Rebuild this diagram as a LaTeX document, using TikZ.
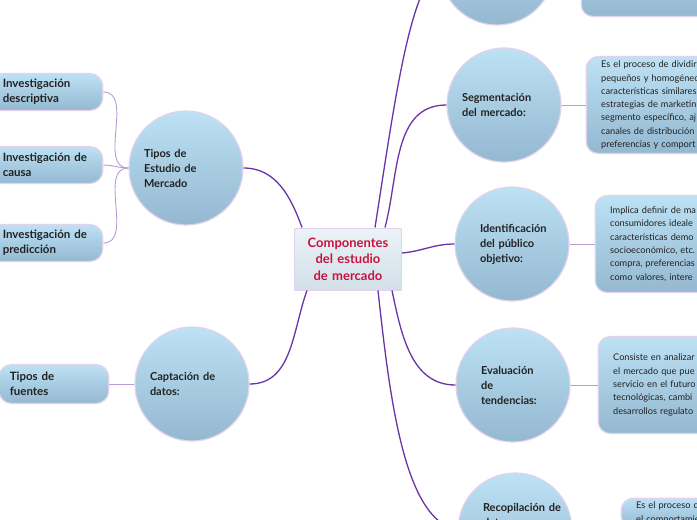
\documentclass[tikz,border=0pt]{standalone}
\usepackage{fontspec}
\setmainfont{Lato}
\usetikzlibrary{positioning}

\definecolor{bubtop}{HTML}{BDE2F5}
\definecolor{bubbot}{HTML}{93B8D0}
\definecolor{rim}{HTML}{E2D2EC}
\definecolor{branchc}{HTML}{6A33A6}
\definecolor{twigc}{HTML}{B89CD4}
\definecolor{rootred}{HTML}{C8143C}
\definecolor{roottop}{HTML}{EAF3F8}
\definecolor{rootbot}{HTML}{D2E0E8}
\definecolor{inktext}{HTML}{222222}

\begin{document}
\begin{tikzpicture}[
  x=1pt, y=1pt,
  node distance=25pt,
  root/.style={draw=rim, line width=1pt, top color=roottop, bottom color=rootbot, align=center, minimum width=107pt, minimum height=62pt, text width=100pt, text=rootred, font=\fontsize{13}{16.5}\selectfont\bfseries},
  bubtext/.style={text width=84pt, align=left, text=inktext, font=\fontsize{11}{15}\selectfont\bfseries},
  bubble/.style={circle, draw=rim, line width=1.2pt, top color=bubtop, bottom color=bubbot, minimum size=114pt, inner sep=0pt, bubtext},
  leaf/.style={draw=rim, line width=1.2pt, rounded corners=13pt, top color=bubtop, bottom color=bubbot, inner xsep=14pt, inner ysep=4pt, minimum height=37pt, text width=86pt, align=left, text=inktext, font=\fontsize{11.5}{15}\selectfont\bfseries},
  note/.style={draw=rim, line width=1.2pt, rounded corners=12pt, top color=bubtop, bottom color=bubbot, inner xsep=15pt, inner ysep=4pt, minimum height=97pt, text width=200pt, align=left, text=inktext, font=\fontsize{9.2}{13.3}\selectfont},
  branch/.style={draw=branchc, line width=1.3pt},
  twig/.style={draw=twigc, line width=0.9pt}
]
\path[fill=white] (0,0) rectangle (697,-520);
\useasboundingbox (0,0) rectangle (697,-520);

% centre
\node[root] (comp) at (348,-259) {Componentes\\del estudio\\de mercado};

% left side
\node[bubble] (tipos) at (186,-168) {Tipos de\\Estudio de\\Mercado};
\node[bubble] (capt) at (192,-384) {Captación de\\datos:};
\node[leaf, left=25pt of tipos, yshift=76pt] (invdesc) {Investigación\\descriptiva};
\node[leaf, left=25pt of tipos, yshift=3pt] (invcausa) {Investigación de\\causa};
\node[leaf, left=25pt of tipos, yshift=-75pt] (invpred) {Investigación de\\predicción};
\node[leaf, left=25pt of capt, inner xsep=11pt, text width=88pt, minimum height=39pt] (fuentes) {Tipos de\\fuentes};

% right side
\node[bubble] (topc) at (497,32) {};
\node[bubble] (seg) at (504,-105) {Segmentación\\del mercado:};
\node[bubble, text width=64pt] (ident) at (512,-244) {Identificación\\del público\\objetivo:};
\node[bubble, text width=64pt] (eval) at (513,-385) {Evaluación\\de\\tendencias:};
\node[bubble] (recop) at (515,-530) {};
\node[bubtext] (recoptxt) at (525,-515) {Recopilación de\\datos:};

\node[note, right=26pt of topc] (topnote) {};
\node[note, right=24pt of seg] (segnote) {Es el proceso de dividir\\pequeños y homogéneo\\características similares\\estrategias de marketin\\segmento específico, aj\\canales de distribución\\preferencias y comport};
\node[note, right=25pt of ident] (identnote) {Implica definir de ma\\consumidores ideale\\características demo\\socioeconómico, etc.\\compra, preferencias\\como valores, intere};
\node[note, right=27pt of eval] (evalnote) {Consiste en analizar\\el mercado que pue\\servicio en el futuro\\tecnológicas, cambi\\desarrollos regulato};
\node[note, right=48pt of recop, yshift=17pt, minimum height=0pt] (recopnote) {Es el proceso de\\el comportamie};

% main branches
\draw[branch] ([xshift=8pt]comp.north west) to[out=110,in=0] (tipos.east);
\draw[branch] ([xshift=13pt]comp.south west) to[out=-110,in=0] (capt.east);
\draw[branch] ([xshift=-27pt]comp.north east) .. controls +(20,128) and +(-30,-22) .. (topc.west);
\draw[branch] ([xshift=-17pt]comp.north east) to[out=75,in=180] (seg.west);
\draw[branch] ([yshift=6pt]comp.east) to[out=5,in=180] (ident.west);
\draw[branch] ([xshift=-10pt]comp.south east) to[out=-78,in=180] (eval.west);
\draw[branch] ([xshift=-24pt]comp.south east) .. controls +(12,-110) and +(-53,10) .. (recop.west);

% sub branches
\draw[twig] (tipos.west) to[out=180,in=0] (invdesc.east);
\draw[twig] (tipos.west) to[out=180,in=0] (invcausa.east);
\draw[twig] (tipos.west) to[out=180,in=0] (invpred.east);
\draw[twig] (capt.west) -- (fuentes.east);
\draw[twig] (topc.east) -- (topnote.west);
\draw[twig] (seg.east) -- (segnote.west);
\draw[twig] (ident.east) -- (identnote.west);
\draw[twig] (eval.east) -- (evalnote.west);
\draw[twig] (recop.east) -- (recop.east -| recopnote.west);
\end{tikzpicture}
\end{document}
